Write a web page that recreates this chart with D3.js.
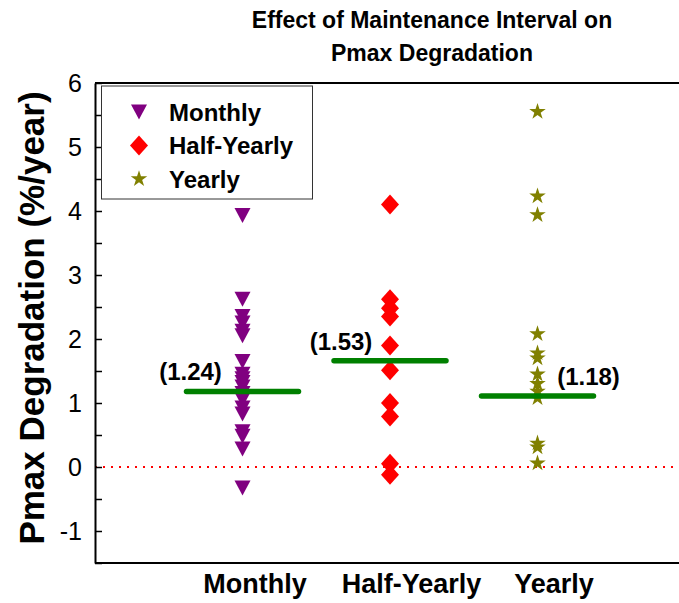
<!DOCTYPE html>
<html>
<head>
<meta charset="utf-8">
<script src="https://cdn.jsdelivr.net/npm/d3@7"></script>
<style>
  html, body { margin: 0; padding: 0; background: #fff; }
  svg { display: block; font-family: "Liberation Sans", Arial, sans-serif; }
</style>
</head>
<body>
<svg id="chart" width="679" height="603"></svg>
<script>
// ---------------- data ----------------
const categories = ["Monthly", "Half-Yearly", "Yearly"];
const monthly = [3.93, 2.62, 2.35, 2.25, 2.12, 2.05, 1.65, 1.45, 1.38, 1.32, 1.25, 1.15, 1.05, 0.92, 0.83, 0.55, 0.48, 0.28, -0.33];
const halfYearly = [4.1, 2.62, 2.48, 2.35, 1.9, 1.51, 1.0, 0.79, 0.05, -0.12];
const yearly = [5.55, 4.23, 3.94, 2.08, 1.78, 1.7, 1.45, 1.3, 1.18, 1.08, 0.37, 0.31, 0.06];
const meanLines = [1.18, 1.66, 1.11];
const annotations = ["(1.24)", "(1.53)", "(1.18)"];
const yTicks = [-1, 0, 1, 2, 3, 4, 5, 6];
const seriesColors = ["#800080", "#ff0000", "#808000"];
const titleLines = ["Effect of Maintenance Interval on", "Pmax Degradation"];
const yLabel = "Pmax Degradation (%/year)";

// ---------------- layout ----------------
(function () {
const svg = d3.select("#chart");
const W = 679, H = 603;
const pLeft = 95, pTop = 83, pBottom = 563, pRight = 685;

const x = d3.scaleLinear().domain([0, 4]).range([pLeft, pRight]);
const y = d3.scaleLinear().domain([-1.5, 6]).range([pBottom, pTop]);

const series = [monthly, halfYearly, yearly];

// symbols
const triDown = { draw(ctx) { const w = 8, h = 7.5; ctx.moveTo(-w, -h); ctx.lineTo(w, -h); ctx.lineTo(0, h); ctx.closePath(); } };
const diamond = { draw(ctx) { const w = 9, h = 10; ctx.moveTo(0, -h); ctx.lineTo(w, 0); ctx.lineTo(0, h); ctx.lineTo(-w, 0); ctx.closePath(); } };
const symbols = [d3.symbol(triDown)(), d3.symbol(diamond)(), d3.symbol(d3.symbolStar, 85)()];

// zero dotted line
svg.append("line")
  .attr("x1", pLeft).attr("x2", W)
  .attr("y1", y(0)).attr("y2", y(0))
  .attr("stroke", "#ff0000").attr("stroke-width", 2)
  .attr("stroke-dasharray", "2,6");

// frame: top and bottom lines
[pTop, pBottom].forEach(yy => {
  svg.append("line").attr("x1", pLeft).attr("x2", W).attr("y1", yy).attr("y2", yy)
    .attr("stroke", "#000").attr("stroke-width", 2);
});

// y axis
const yAxis = d3.axisLeft(y)
  .tickValues(d3.range(-1.5, 6.01, 0.5))
  .tickSizeInner(-7).tickSizeOuter(0).tickPadding(13)
  .tickFormat(d => yTicks.includes(d) ? String(d) : "");
const gy = svg.append("g").attr("transform", `translate(${pLeft},0)`).call(yAxis);
gy.select(".domain").attr("stroke", "#000").attr("stroke-width", 2);
gy.selectAll(".tick line").attr("stroke", "#000").attr("stroke-width", 1.5);
gy.selectAll(".tick text").attr("font-size", 25).attr("fill", "#000")
  .attr("font-family", "Liberation Sans, Arial, sans-serif");

// x axis labels
const labelDx = [12, 21, 16];
const xAxis = d3.axisBottom(x).tickValues([1, 2, 3]).tickSize(0).tickPadding(11)
  .tickFormat((d, i) => categories[i]);
const gx = svg.append("g").attr("transform", `translate(0,${pBottom})`).call(xAxis);
gx.select(".domain").remove();
gx.selectAll(".tick text").attr("font-size", 27).attr("font-weight", "bold").attr("fill", "#000")
  .attr("dx", (d, i) => labelDx[i]).attr("font-family", "Liberation Sans, Arial, sans-serif");

// points
series.forEach((vals, i) => {
  svg.append("g").selectAll("path").data(vals).join("path")
    .attr("d", symbols[i])
    .attr("transform", d => `translate(${x(i + 1)},${y(d)})`)
    .attr("fill", seriesColors[i]);
});

// mean lines
svg.append("g").selectAll("line").data(meanLines).join("line")
  .attr("x1", (d, i) => x(i + 1) - 56).attr("x2", (d, i) => x(i + 1) + 56)
  .attr("y1", d => y(d)).attr("y2", d => y(d))
  .attr("stroke", "#008000").attr("stroke-width", 5.5).attr("stroke-linecap", "round");

// annotations
const annDx = [-52, -49, 51];
svg.append("g").selectAll("text").data(annotations).join("text")
  .attr("x", (d, i) => x(i + 1) + annDx[i])
  .attr("y", (d, i) => y(meanLines[i]) - 11)
  .attr("text-anchor", "middle").attr("font-size", 24).attr("font-weight", "bold")
  .text(d => d);

// legend
const lg = svg.append("g");
lg.append("rect").attr("x", 101.5).attr("y", 86).attr("width", 211).attr("height", 113)
  .attr("fill", "#fff").attr("stroke", "#333").attr("stroke-width", 1);
categories.forEach((c, i) => {
  const ly = 112 + i * 33.5;
  lg.append("path").attr("d", symbols[i]).attr("transform", `translate(139,${ly})`).attr("fill", seriesColors[i]);
  lg.append("text").attr("x", 169).attr("y", ly).attr("dy", "0.36em")
    .attr("font-size", 24).attr("font-weight", "bold").text(c);
});

// title
svg.append("g").selectAll("text").data(titleLines).join("text")
  .attr("x", 432).attr("y", (d, i) => 28 + i * 33)
  .attr("text-anchor", "middle").attr("font-size", 23).attr("font-weight", "bold")
  .text(d => d);

// y label
svg.append("text")
  .attr("transform", "translate(44,318) rotate(-90)")
  .attr("text-anchor", "middle").attr("font-size", 35).attr("font-weight", "bold")
  .text(yLabel);
})();
</script>
</body>
</html>
